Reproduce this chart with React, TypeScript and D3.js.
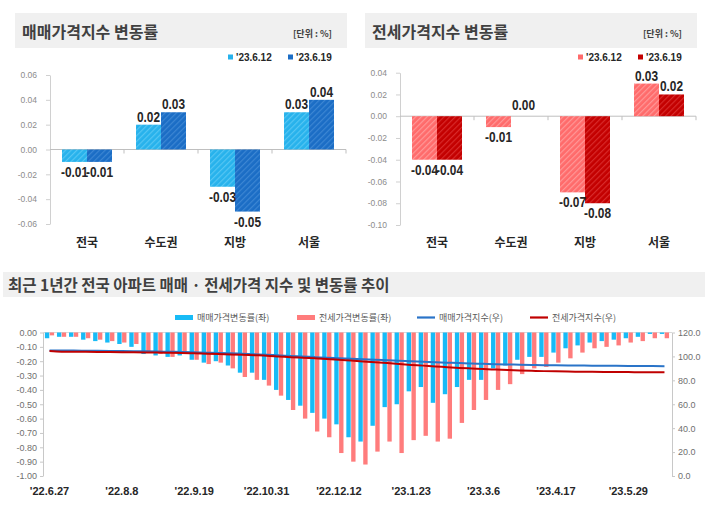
import * as d3 from "d3";
import { useEffect, useRef } from "react";

// top panels: weekly change by region (%)
const regions = ["전국", "수도권", "지방", "서울"];
const weeks = ["'23.6.12", "'23.6.19"];
const saleJun12 = [-0.01, 0.02, -0.03, 0.03];
const saleJun19 = [-0.01, 0.03, -0.05, 0.04];
const jeonseJun12 = [-0.04, -0.01, -0.07, 0.03];
const jeonseJun19 = [-0.04, 0.0, -0.08, 0.02];
const saleTicks = [-0.06, -0.04, -0.02, 0, 0.02, 0.04, 0.06];
const jeonseTicks = [-0.1, -0.08, -0.06, -0.04, -0.02, 0, 0.02, 0.04];

// bottom panel: 52 weeks, '22.6.27 ~ '23.6.19
const trendTicks = ["'22.6.27", "'22.8.8", "'22.9.19", "'22.10.31", "'22.12.12", "'23.1.23", "'23.3.6", "'23.4.17", "'23.5.29"];
const changeTicks = [-1, -0.9, -0.8, -0.7, -0.6, -0.5, -0.4, -0.3, -0.2, -0.1, 0];
const indexTicks = [0, 20, 40, 60, 80, 100, 120];
const saleChange = [
  -0.04, -0.03, -0.03, -0.05, -0.06, -0.07, -0.08, -0.1, -0.15, -0.16,
  -0.17, -0.16, -0.19, -0.21, -0.2, -0.23, -0.28, -0.28, -0.33, -0.4,
  -0.47, -0.51, -0.56, -0.6, -0.64, -0.73, -0.76, -0.65, -0.52, -0.5,
  -0.41, -0.38, -0.49, -0.43, -0.38, -0.33, -0.33, -0.25, -0.23, -0.19,
  -0.17, -0.17, -0.14, -0.11, -0.09, -0.07, -0.06, -0.05, -0.04, -0.03,
  -0.01, -0.01,
];
const jeonseChange = [
  -0.02, -0.03, -0.03, -0.04, -0.05, -0.06, -0.07, -0.08, -0.14, -0.15,
  -0.17, -0.15, -0.19, -0.22, -0.21, -0.25, -0.31, -0.33, -0.37, -0.44,
  -0.54, -0.6, -0.69, -0.73, -0.84, -0.9, -0.92, -0.83, -0.76, -0.84,
  -0.75, -0.72, -0.76, -0.74, -0.63, -0.54, -0.47, -0.4, -0.36, -0.29,
  -0.25, -0.24, -0.21, -0.18, -0.14, -0.11, -0.1, -0.09, -0.07, -0.06,
  -0.04, -0.04,
];
const saleIndex = [
  105.0, 104.9, 104.9, 104.8, 104.7, 104.6, 104.5, 104.4, 104.3, 104.1,
  103.9, 103.7, 103.4, 103.1, 102.9, 102.6, 102.2, 101.8, 101.4, 100.9,
  100.4, 99.9, 99.4, 98.9, 98.5, 98.1, 97.6, 97.2, 96.8, 96.4,
  96.0, 95.6, 95.2, 94.8, 94.4, 94.1, 93.8, 93.5, 93.3, 93.1,
  92.9, 92.7, 92.6, 92.5, 92.4, 92.3, 92.3, 92.2, 92.0, 91.9,
  91.9, 91.8,
];
const jeonseIndex = [
  104.5, 104.0, 103.9, 103.8, 103.7, 103.6, 103.5, 103.4, 103.3, 103.2,
  103.0, 102.8, 102.6, 102.3, 102.0, 101.7, 101.4, 101.0, 100.6, 100.0,
  99.4, 98.9, 98.4, 97.8, 97.2, 96.5, 95.8, 95.1, 94.4, 93.6,
  92.9, 92.3, 91.6, 91.0, 90.4, 89.9, 89.4, 89.0, 88.6, 88.3,
  88.0, 87.7, 87.5, 87.3, 87.2, 87.1, 87.0, 86.9, 86.9, 86.8,
  86.8, 86.7,
];

const KR = "'Noto Sans CJK KR', 'Noto Sans', sans-serif";
const NUM = "'Liberation Sans', Arial, sans-serif";

const fmt2 = (v) => (Math.abs(v) < 1e-9 ? "0.00" : v.toFixed(2));

function hatch(defs, id, base, stripe) {
  const p = defs
    .append("pattern")
    .attr("id", id)
    .attr("patternUnits", "userSpaceOnUse")
    .attr("width", 4)
    .attr("height", 4)
    .attr("patternTransform", "rotate(45)");
  p.append("rect").attr("width", 4).attr("height", 4).attr("fill", base);
  p.append("rect").attr("width", 1.2).attr("height", 4).attr("fill", stripe);
}

function drawPanel(svg, o) {
  const g = svg.append("g");
  g.append("rect")
    .attr("x", o.boxX)
    .attr("y", 13)
    .attr("width", 332)
    .attr("height", 35)
    .attr("fill", "#f0f0f0");
  g.append("text")
    .attr("x", o.boxX + 7)
    .attr("y", 38)
    .attr("font-family", KR)
    .attr("font-size", 16)
    .attr("font-weight", 700)
    .attr("fill", "#404040")
    .text(o.title);
  g.append("text")
    .attr("x", o.boxX + 317)
    .attr("y", 37)
    .attr("text-anchor", "end")
    .attr("font-family", KR)
    .attr("font-size", 9)
    .attr("font-weight", 700)
    .attr("fill", "#404040")
    .text("[단위 : %]");

  // legend
  weeks.forEach((w, k) => {
    const lx = o.boxX + 213 + k * 60;
    g.append("rect").attr("x", lx).attr("y", 54.5).attr("width", 5).attr("height", 5).attr("fill", o.colors[k]);
    g.append("text")
      .attr("x", lx + 8)
      .attr("y", 61)
      .attr("font-family", NUM)
      .attr("font-size", 10)
      .attr("font-weight", 700)
      .attr("fill", "#262626")
      .text(w);
  });

  const x = d3.scaleBand().domain(regions).range([o.axisX, o.axisX + 296]);
  const inner = d3.scaleBand().domain(["a", "b"]).range([12, 62]);
  const y = d3.scaleLinear().domain(o.domain).range(o.range);

  const yAxis = d3
    .axisLeft(y)
    .tickValues(o.ticks)
    .tickSize(4)
    .tickSizeOuter(0)
    .tickPadding(9)
    .tickFormat(fmt2);
  const ya = g.append("g").attr("transform", `translate(${o.axisX},0)`).call(yAxis);
  ya.select(".domain").attr("stroke", "#d0d0d0");
  ya.selectAll(".tick line").attr("stroke", "#d0d0d0");
  ya.selectAll("text")
    .attr("font-family", NUM)
    .attr("font-size", 8.5)
    .attr("fill", "#8c8c8c");

  // zero line with band ticks
  g.append("line")
    .attr("x1", o.axisX)
    .attr("x2", o.axisX + 296)
    .attr("y1", y(0))
    .attr("y2", y(0))
    .attr("stroke", "#bfbfbf");
  g.selectAll(".bt")
    .data(regions)
    .enter()
    .append("line")
    .attr("x1", (d) => x(d) + x.bandwidth())
    .attr("x2", (d) => x(d) + x.bandwidth())
    .attr("y1", y(0))
    .attr("y2", y(0) + 4)
    .attr("stroke", "#bfbfbf");

  const rows = regions.flatMap((r, i) => [
    { r, k: "a", v: o.s1[i], fill: `url(#${o.ids[0]})` },
    { r, k: "b", v: o.s2[i], fill: `url(#${o.ids[1]})` },
  ]);

  g.selectAll(".bar")
    .data(rows)
    .enter()
    .append("rect")
    .attr("x", (d) => x(d.r) + inner(d.k))
    .attr("width", inner.bandwidth())
    .attr("y", (d) => y(Math.max(0, d.v)))
    .attr("height", (d) => Math.abs(y(d.v) - y(0)))
    .attr("fill", (d) => d.fill);

  g.selectAll(".val")
    .data(rows)
    .enter()
    .append("text")
    .attr("transform", (d) => {
      const cx = x(d.r) + inner(d.k) + inner.bandwidth() / 2;
      const ly = d.v > 0 ? y(d.v) - 3 : d.v < 0 ? y(d.v) + 15 : y(0) - 6;
      return `translate(${cx},${ly}) scale(0.82,1)`;
    })
    .attr("text-anchor", "middle")
    .attr("font-family", NUM)
    .attr("font-size", 14.5)
    .attr("font-weight", 700)
    .attr("fill", "#262626")
    .text((d) => fmt2(d.v));

  g.selectAll(".cat")
    .data(regions)
    .enter()
    .append("text")
    .attr("x", (d) => x(d) + x.bandwidth() / 2)
    .attr("y", 247)
    .attr("text-anchor", "middle")
    .attr("font-family", KR)
    .attr("font-size", 12)
    .attr("font-weight", 700)
    .attr("fill", "#262626")
    .text((d) => d);
}

export default function App() {
  const svgRef = useRef(null);

  useEffect(() => {
    const svg = d3.select(svgRef.current);
    svg.selectAll("*").remove();
    svg.append("rect").attr("width", 710).attr("height", 508).attr("fill", "#fff");

    const defs = svg.append("defs");
    hatch(defs, "sky", "#27b2ec", "#55c6f3");
    hatch(defs, "navy", "#1b6dc5", "#3c86d3");
    hatch(defs, "pink", "#ff6b6b", "#ff9898");
    hatch(defs, "crimson", "#c30000", "#d82a2a");

    drawPanel(svg, {
      boxX: 15,
      axisX: 50,
      title: "매매가격지수 변동률",
      colors: ["#27b2ec", "#1b6dc5"],
      ids: ["sky", "navy"],
      s1: saleJun12,
      s2: saleJun19,
      domain: [-0.06, 0.06],
      range: [224, 75],
      ticks: saleTicks,
    });
    drawPanel(svg, {
      boxX: 365,
      axisX: 400,
      title: "전세가격지수 변동률",
      colors: ["#ff6b6b", "#c30000"],
      ids: ["pink", "crimson"],
      s1: jeonseJun12,
      s2: jeonseJun19,
      domain: [-0.1, 0.04],
      range: [225, 72.7],
      ticks: jeonseTicks,
    });

    // bottom panel
    const b = svg.append("g");
    b.append("rect").attr("x", 3).attr("y", 272).attr("width", 702).attr("height", 25).attr("fill", "#f0f0f0");
    b.append("text")
      .attr("x", 8)
      .attr("y", 291)
      .attr("font-family", KR)
      .attr("font-size", 15.5)
      .attr("font-weight", 700)
      .attr("fill", "#404040")
      .text("최근 1년간 전국 아파트 매매 · 전세가격 지수 및 변동률 추이");

    const legend = [
      { type: "bar", x: 175, color: "#18bbf6", label: "매매가격변동률(좌)" },
      { type: "bar", x: 297, color: "#ff7c7c", label: "전세가격변동률(좌)" },
      { type: "line", x: 417, color: "#2a74c8", label: "매매가격지수(우)" },
      { type: "line", x: 530, color: "#c00000", label: "전세가격지수(우)" },
    ];
    legend.forEach((l) => {
      if (l.type === "bar") {
        b.append("rect").attr("x", l.x).attr("y", 315).attr("width", 18).attr("height", 5).attr("fill", l.color);
      } else {
        b.append("line")
          .attr("x1", l.x)
          .attr("x2", l.x + 18)
          .attr("y1", 317.5)
          .attr("y2", 317.5)
          .attr("stroke", l.color)
          .attr("stroke-width", 2.2);
      }
      b.append("text")
        .attr("x", l.x + 22)
        .attr("y", 320.5)
        .attr("font-family", KR)
        .attr("font-size", 9)
        .attr("fill", "#595959")
        .text(l.label);
    });

    const idx = d3.range(saleChange.length);
    const xb = d3.scaleBand().domain(idx).range([43.5, 670.5]);
    const pair = d3.scaleBand().domain(["s", "j"]).range([1.4, 10.6]).paddingInner(0.1);
    const yL = d3.scaleLinear().domain([-1, 0]).range([476, 332.5]);
    const yR = d3.scaleLinear().domain([0, 120]).range([476, 332.5]);

    const la = b
      .append("g")
      .attr("transform", "translate(43,0)")
      .call(d3.axisLeft(yL).tickValues(changeTicks).tickSize(3).tickSizeOuter(0).tickPadding(3).tickFormat(fmt2));
    const ra = b
      .append("g")
      .attr("transform", "translate(672,0)")
      .call(d3.axisRight(yR).tickValues(indexTicks).tickSize(3).tickSizeOuter(0).tickPadding(3).tickFormat(d3.format(".1f")));
    [la, ra].forEach((a) => {
      a.select(".domain").attr("stroke", "#c8c8c8");
      a.selectAll(".tick line").attr("stroke", "#c8c8c8");
      a.selectAll("text").attr("font-family", NUM).attr("font-size", 9).attr("fill", "#6f6f6f");
    });
    b.append("line").attr("x1", 43).attr("x2", 672).attr("y1", yL(0)).attr("y2", yL(0)).attr("stroke", "#d9d9d9");

    b.selectAll(".sb")
      .data(idx)
      .enter()
      .append("rect")
      .attr("x", (i) => xb(i) + pair("s"))
      .attr("width", pair.bandwidth())
      .attr("y", yL(0))
      .attr("height", (i) => yL(saleChange[i]) - yL(0))
      .attr("fill", "#18bbf6");
    b.selectAll(".jb")
      .data(idx)
      .enter()
      .append("rect")
      .attr("x", (i) => xb(i) + pair("j"))
      .attr("width", pair.bandwidth())
      .attr("y", yL(0))
      .attr("height", (i) => yL(jeonseChange[i]) - yL(0))
      .attr("fill", "#ff7c7c");

    const cx = (i) => xb(i) + xb.bandwidth() / 2;
    const line = (vals) =>
      d3
        .line()
        .x((i) => cx(i))
        .y((i) => yR(vals[i]))
        .curve(d3.curveMonotoneX)(idx);
    b.append("path").attr("d", line(saleIndex)).attr("fill", "none").attr("stroke", "#2a74c8").attr("stroke-width", 2);
    b.append("path").attr("d", line(jeonseIndex)).attr("fill", "none").attr("stroke", "#c00000").attr("stroke-width", 2);

    b.selectAll(".xl")
      .data(trendTicks)
      .enter()
      .append("text")
      .attr("x", (d, k) => cx(k * 6))
      .attr("y", 495)
      .attr("text-anchor", "middle")
      .attr("font-family", NUM)
      .attr("font-size", 11)
      .attr("font-weight", 700)
      .attr("fill", "#262626")
      .text((d) => d);
  }, []);

  return (
    <svg
      ref={svgRef}
      width={710}
      height={508}
      style={{ position: "absolute", left: 0, top: 0 }}
    ></svg>
  );
}
